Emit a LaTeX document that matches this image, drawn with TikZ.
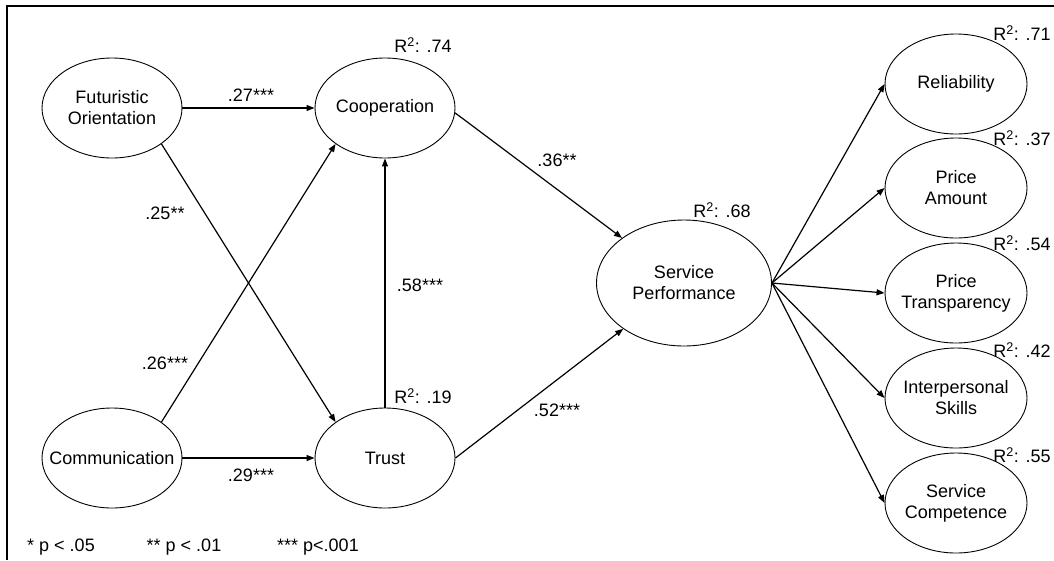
\documentclass[tikz,border=0pt]{standalone}
\usepackage{fontspec}
\setmainfont{Liberation Sans}
\usetikzlibrary{shapes.geometric,arrows.meta}
\tikzset{
  latent/.style={draw, ellipse, line width=0.9pt, minimum width=140pt, minimum height=100pt, inner xsep=-30pt, inner ysep=0pt, align=center, font=\fontsize{18}{21}\selectfont},
  path/.style={line width=1.2pt, -{Triangle[length=8pt,width=6pt]}},
  lbl/.style={inner sep=0pt, font=\fontsize{18}{21}\selectfont},
}
\begin{document}
\begin{tikzpicture}[x=1pt,y=-1pt]
\useasboundingbox (0,0) rectangle (1054,560);
\draw[line width=1.2pt] (7,560) -- (7,6) -- (1054,6);
% nodes
\node[latent] (fo) at (112,108) {Futuristic\\Orientation};
\node[latent] (coop) at (385,108) {Cooperation};
\node[latent] (comm) at (112,458) {Communication};
\node[latent] (trust) at (385,458) {Trust};
\node[latent, minimum width=175pt, minimum height=126pt] (sp) at (684,283) {Service\\Performance};
\node[latent, minimum width=142pt] (rel) at (956,84) {Reliability};
\node[latent, minimum width=142pt] (pa) at (956,188) {Price\\Amount};
\node[latent, minimum width=142pt] (pt) at (956,293) {Price\\Transparency};
\node[latent, minimum width=142pt] (is) at (956,398) {Interpersonal\\Skills};
\node[latent, minimum width=142pt] (sc) at (956,503) {Service\\Competence};
% paths
\draw[path] (fo.east) -- (coop.west);
\draw[path] (fo.-36) -- (trust.144);
\draw[path] (comm.36) -- (coop.-144);
\draw[path] (comm.east) -- (trust.west);
\draw[path] (trust.north) -- (coop.south);
\draw[path] (coop.-4) -- (sp.144);
\draw[path] (trust.east) -- (sp.-143);
\draw[path] (sp.east) -- (rel.west);
\draw[path] (sp.east) -- (pa.west);
\draw[path] (sp.east) -- (pt.west);
\draw[path] (sp.east) -- (is.west);
\draw[path] (sp.east) -- (sc.west);
% coefficient labels
\node[lbl] (l27) at (251,95) {.27***};
\node[lbl] (l25) at (165,213) {.25**};
\node[lbl] (l26) at (165,363) {.26***};
\node[lbl] (l29) at (251,475) {.29***};
\node[lbl] (l58) at (420,285) {.58***};
\node[lbl] (l36) at (557,160) {.36**};
\node[lbl] (l52) at (557,410) {.52***};
% R2 labels
\node[lbl] (r74) at (423,45) {R\textsuperscript{2}: .74};
\node[lbl] (r19) at (423,396) {R\textsuperscript{2}: .19};
\node[lbl] (r68) at (722,210) {R\textsuperscript{2}: .68};
\node[lbl] (r71) at (1022,33) {R\textsuperscript{2}: .71};
\node[lbl] (r37) at (1022,138) {R\textsuperscript{2}: .37};
\node[lbl] (r54) at (1022,243) {R\textsuperscript{2}: .54};
\node[lbl] (r42) at (1022,350) {R\textsuperscript{2}: .42};
\node[lbl] (r55) at (1022,455) {R\textsuperscript{2}: .55};
% legend
\node[lbl] (p05) at (61,547) {* p < .05};
\node[lbl] (p01) at (184,547) {** p < .01};
\node[lbl] (p001) at (318,547) {*** p<.001};
\end{tikzpicture}
\end{document}
